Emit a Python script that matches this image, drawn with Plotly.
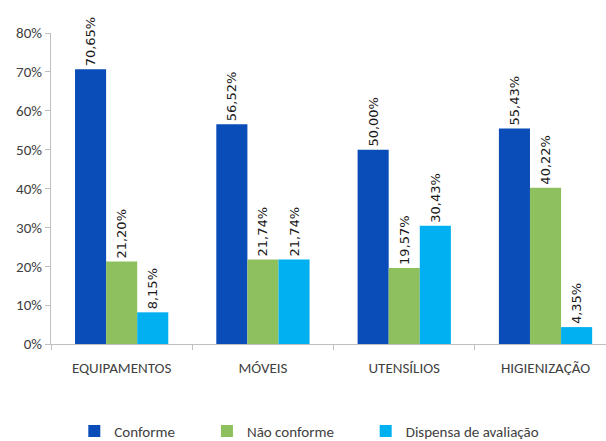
import plotly.graph_objects as go

categories = ["EQUIPAMENTOS", "MÓVEIS", "UTENSÍLIOS", "HIGIENIZAÇÃO"]
conforme = [70.65, 56.52, 50.00, 55.43]
nao_conforme = [21.20, 21.74, 19.57, 40.22]
dispensa = [8.15, 21.74, 30.43, 4.35]

series = [
    ("Conforme", conforme, "#0A4DB8", "legend", 0.042),
    ("Não conforme", nao_conforme, "#8FC05E", "legend2", 0.281),
    ("Dispensa de avaliação", dispensa, "#00B0F0", "legend3", 0.567),
]

tick_font = "Carlito, Lato, sans-serif"
text_color = "#404040"

fig = go.Figure()
legends = {}
for name, vals, color, legend_id, legend_x in series:
    fig.add_trace(go.Bar(
        name=name,
        x=categories,
        y=[v / 100 for v in vals],
        marker=dict(color=color, line=dict(width=0)),
        text=[f"{v:.2f}%".replace(".", ",") for v in vals],
        textposition="outside",
        textangle=-90,
        constraintext="none",
        textfont=dict(family="DejaVu Sans", size=13, color="#1a1a1a"),
        cliponaxis=False,
        showlegend=True,
        legend=legend_id,
    ))
    legends[legend_id] = dict(
        orientation="h",
        x=legend_x, xanchor="left",
        yref="container",
        y=0.022, yanchor="middle",
        font=dict(family=tick_font, size=15, color=text_color),
        itemwidth=30,
        bgcolor="rgba(0,0,0,0)",
    )

fig.update_layout(
    width=606,
    height=441,
    margin=dict(l=51, r=0, t=33, b=97, autoexpand=False),
    paper_bgcolor="white",
    plot_bgcolor="white",
    showlegend=True,
    barmode="group",
    bargap=0.34,
    bargroupgap=0,
    font=dict(family=tick_font, size=15, color=text_color),
    xaxis=dict(
        range=[-0.5, 3.428],
        showline=True, linecolor="#BFBFBF", linewidth=1,
        ticks="outside", tickson="boundaries", ticklen=5, tickcolor="#BFBFBF",
        ticklabelstandoff=10,
        tickfont=dict(family=tick_font, size=15, color=text_color),
        showgrid=False,
    ),
    yaxis=dict(
        range=[0, 0.8],
        dtick=0.1,
        tickformat=".0%",
        showline=True, linecolor="#BFBFBF", linewidth=1,
        ticks="outside", ticklen=5, tickcolor="#BFBFBF",
        tickfont=dict(family=tick_font, size=15, color=text_color),
        showgrid=False, zeroline=False,
    ),
    **legends,
)

fig.write_html("out.html")
